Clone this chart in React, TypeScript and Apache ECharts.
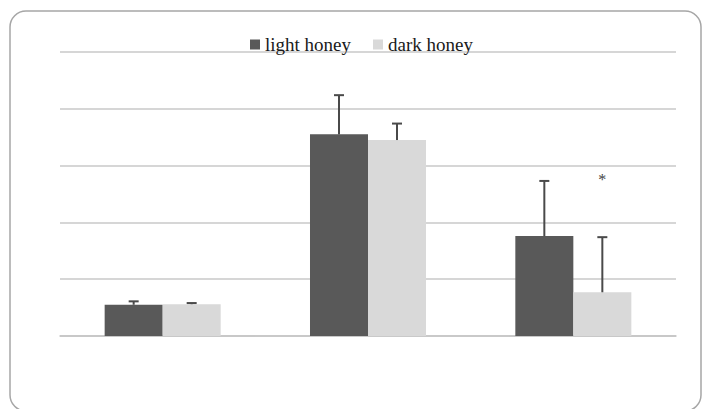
import React, { useEffect, useRef } from "react";
import * as echarts from "echarts";

const categories = ["1", "2", "3"];
const seriesNames = ["light honey", "dark honey"];
const lightHoney = [5.5, 35.5, 17.6];
const lightHoneyErr = [0.6, 6.9, 9.7];
const darkHoney = [5.6, 34.5, 7.7];
const darkHoneyErr = [0.2, 2.9, 9.7];
const darkHoneySig = ["", "", "*"];

const CAT_GAP = 0.435;

export default function App() {
  const ref = useRef<HTMLDivElement>(null);
  useEffect(() => {
    if (!ref.current) return;
    const chart = echarts.init(ref.current, null, { renderer: "svg" });

    const errSeries = (idx: number, vals: number[], errs: number[], sig: string[]) => ({
      type: "custom",
      name: seriesNames[idx] + " error",
      z: 5,
      silent: true,
      renderItem: (params: any, api: any) => {
        const c = api.value(0);
        const v = api.value(1);
        const e = api.value(2);
        const base = api.coord([c, v]);
        const top = api.coord([c, v + e]);
        const band = api.size([1, 0])[0];
        const barW = (band * (1 - CAT_GAP)) / 2;
        const cx = base[0] + (idx === 0 ? -barW / 2 : barW / 2);
        const capW = 5;
        const style = { stroke: "#4a4a4a", lineWidth: 2 };
        const children: any[] = [
          { type: "line", shape: { x1: cx, y1: base[1], x2: cx, y2: top[1] }, style },
          { type: "line", shape: { x1: cx - capW, y1: top[1], x2: cx + capW, y2: top[1] }, style },
        ];
        const s = sig[params.dataIndex];
        if (s) {
          const maxTop = Math.max(
            lightHoney[params.dataIndex] + lightHoneyErr[params.dataIndex],
            darkHoney[params.dataIndex] + darkHoneyErr[params.dataIndex]
          );
          const p = api.coord([c, maxTop]);
          children.push({
            type: "text",
            style: {
              text: s,
              x: cx,
              y: p[1] - 1,
              align: "center",
              verticalAlign: "middle",
              fontSize: 16,
              fontFamily: "Liberation Serif",
              fill: "#444444",
            },
          });
        }
        return { type: "group", children };
      },
      data: vals.map((v, i) => [i, v, errs[i]]),
    });

    chart.setOption({
      animation: false,
      backgroundColor: "#ffffff",
      graphic: [
        {
          type: "rect",
          shape: { x: 10, y: 11, width: 691, height: 400, r: 16 },
          style: { fill: "none", stroke: "#a6a6a6", lineWidth: 1.5 },
          z: 0,
        },
      ],
      legend: {
        data: seriesNames,
        top: 30,
        left: 245,
        itemWidth: 10,
        itemHeight: 10,
        itemGap: 22,
        icon: "rect",
        textStyle: { fontFamily: "Liberation Serif", fontSize: 19, color: "#1a1a1a" },
      },
      grid: { left: 60, right: 27, top: 52, bottom: 73 },
      xAxis: {
        type: "category",
        data: categories,
        axisLine: { show: true, lineStyle: { color: "#c4c4c4", width: 1.5 } },
        axisTick: { show: false },
        axisLabel: { show: false },
      },
      yAxis: {
        type: "value",
        min: 0,
        max: 50,
        interval: 10,
        axisLine: { show: false },
        axisTick: { show: false },
        axisLabel: { show: false },
        splitLine: { lineStyle: { color: "#c8c8c8", width: 1.5 } },
      },
      series: [
        {
          name: seriesNames[0],
          type: "bar",
          data: lightHoney,
          barGap: "0%",
          barCategoryGap: CAT_GAP * 100 + "%",
          itemStyle: { color: "#595959" },
        },
        {
          name: seriesNames[1],
          type: "bar",
          data: darkHoney,
          barGap: "0%",
          barCategoryGap: CAT_GAP * 100 + "%",
          itemStyle: { color: "#d9d9d9" },
        },
        errSeries(0, lightHoney, lightHoneyErr, ["", "", ""]),
        errSeries(1, darkHoney, darkHoneyErr, darkHoneySig),
      ],
    });
    return () => chart.dispose();
  }, []);
  return (
    <div
      ref={ref}
      style={{ position: "fixed", left: 0, top: 0, width: 703, height: 409 }}
    />
  );
}
